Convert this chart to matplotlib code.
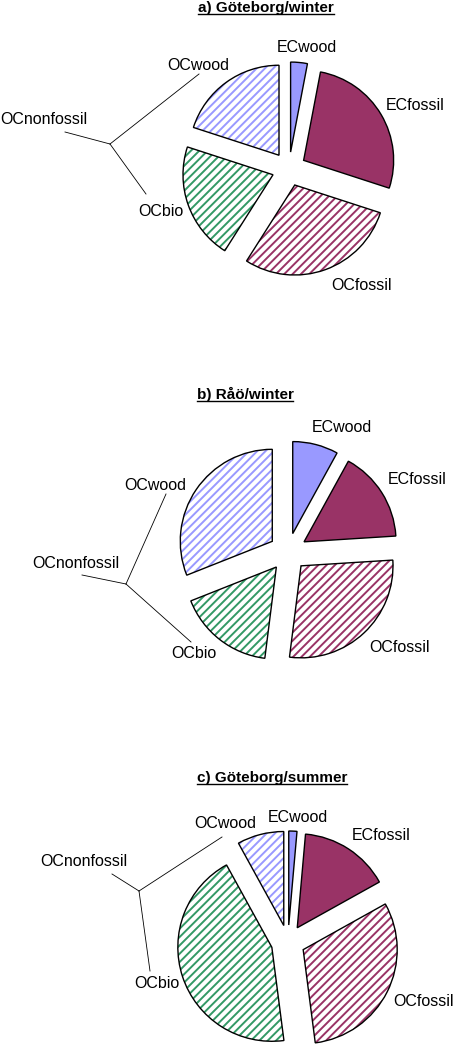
import matplotlib
matplotlib.use("Agg")
import matplotlib.pyplot as plt
from matplotlib.patches import Wedge

plt.rcParams['font.family'] = ['Liberation Sans', 'DejaVu Sans']
plt.rcParams['hatch.linewidth'] = 1.4

W, H = 453, 1045

components = ["ECwood", "ECfossil", "OCfossil", "OCbio", "OCwood"]
gbg_winter = [3, 27, 29, 21, 20]
rao_winter = [8, 16, 28, 17, 31]
gbg_summer = [1.4, 15.5, 31, 44, 8]
titles = ["a) Göteborg/winter", "b) Råö/winter", "c) Göteborg/summer"]

fills = ["#9999FF", "#993366", "white", "white", "white"]
hatch_cols = [None, None, "#993366", "#339966", "#9999FF"]

# layout in pixel coords (y measured from top); explode is in pixels too
panels = [
    dict(vals=gbg_winter, c=(289, 169), r=90, ex=17, title=(266, 8),
         labels={"ECwood": (307, 48), "ECfossil": (415, 105), "OCfossil": (361, 285),
                 "OCbio": (161, 212), "OCwood": (198, 65), "OCnonfossil": (44, 120)},
         bracket=[(65, 132), (110, 144), (199, 74), (146, 194)]),
    dict(vals=rao_winter, c=(288, 552), r=92, ex=19, title=(245, 394),
         labels={"ECwood": (342, 428), "ECfossil": (417, 480), "OCfossil": (399, 648),
                 "OCbio": (194, 653), "OCwood": (155, 486), "OCnonfossil": (76, 563)},
         bracket=[(82, 575), (126, 584), (166, 494), (191, 642)]),
    dict(vals=gbg_summer, c=(288, 942), r=94, ex=17, title=(272, 778),
         labels={"ECwood": (298, 818), "ECfossil": (381, 835), "OCfossil": (423, 1001),
                 "OCbio": (157, 983), "OCwood": (225, 823), "OCnonfossil": (84, 861)},
         bracket=[(112, 874), (139, 891), (222, 837), (150, 971)]),
]

fig = plt.figure(figsize=(W / 100, H / 100), dpi=100)
ax = fig.add_axes([0, 0, 1, 1])

for p in panels:
    cx, cy = p["c"]
    wedges, _ = ax.pie(p["vals"], explode=[p["ex"]] * 5, colors=fills,
                       startangle=90, counterclock=False,
                       center=(cx, H - cy), radius=p["r"],
                       wedgeprops=dict(edgecolor="black", linewidth=1.0))
    for w, hc in zip(wedges, hatch_cols):
        if hc is None:
            continue
        w.set_hatch("////")
        w.set_edgecolor(hc)
        w.set_linewidth(0)
        ax.add_patch(Wedge(w.center, w.r, w.theta1, w.theta2, fill=False,
                           edgecolor="black", linewidth=1.0))

    for name, (x, y) in p["labels"].items():
        ax.text(x, H - y, name, ha="center", va="center", fontsize=11.5)

    a, j, u, d = p["bracket"]
    for q in (a, u, d):
        ax.plot([j[0], q[0]], [H - j[1], H - q[1]], color="black", lw=0.6)

ax.set_xlim(0, W)
ax.set_ylim(0, H)
ax.axis("off")

# titles with underline
fig.canvas.draw()
renderer = fig.canvas.get_renderer()
inv = ax.transData.inverted()
for p, t in zip(panels, titles):
    tx, ty = p["title"]
    txt = ax.text(tx, H - ty, t, ha="center", va="center", fontsize=11, fontweight="bold")
    bb = txt.get_window_extent(renderer)
    (x0, y0), (x1, y1) = inv.transform([(bb.x0, bb.y0), (bb.x1, bb.y1)])
    ax.plot([x0, x1], [y0 + 1, y0 + 1], color="black", lw=1.0)

fig.savefig("out.png", dpi=100)
